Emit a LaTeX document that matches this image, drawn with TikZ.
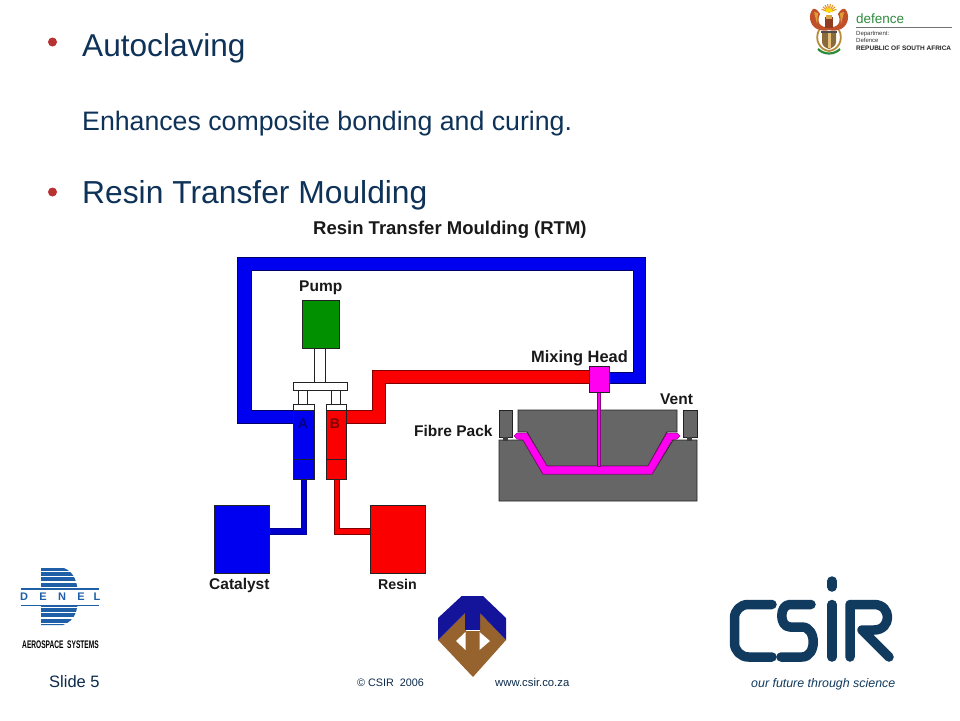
\documentclass[tikz,border=0pt]{standalone}
\usepackage{fontspec}
\setmainfont{Liberation Sans}
\definecolor{navy}{HTML}{0E3258}
\definecolor{csirblue}{HTML}{103A5E}
\definecolor{bulletred}{HTML}{B83232}
\definecolor{pipeblue}{HTML}{0000F0}
\definecolor{pipered}{HTML}{FA0000}
\definecolor{pumpgreen}{HTML}{009000}
\definecolor{mouldgrey}{HTML}{666666}
\definecolor{mixmag}{HTML}{FF00F0}
\definecolor{edgedark}{HTML}{222222}
\definecolor{denelblue}{HTML}{1F5FA8}
\definecolor{badgeblue}{HTML}{14149A}
\definecolor{badgebrown}{HTML}{96622E}
\definecolor{defgreen}{HTML}{2E8B3C}
\definecolor{armgold}{HTML}{D9A441}
\definecolor{armred}{HTML}{C0502A}
\definecolor{armbrown}{HTML}{8A6A3A}
\tikzset{
 slidetext/.style={anchor=base west,inner sep=0pt,text=navy,font=\fontsize{26.7}{30}\selectfont},
 headtext/.style={anchor=base west,inner sep=0pt,text=navy,font=\fontsize{31.6}{34}\selectfont},
 bulletmark/.style={circle,fill=bulletred,inner sep=0pt,minimum size=9},
 difflabel/.style={anchor=base west,inner sep=0pt,text=black!90,font=\fontsize{15.5}{17}\selectfont\bfseries},
 partbox/.style={draw=edgedark,line width=.9},
 footertext/.style={anchor=base west,inner sep=0pt,text=navy!85!black},
 csirstroke/.style={draw=csirblue,line width=9.5,line cap=round,line join=round},
}
\begin{document}
\begin{tikzpicture}[x=1pt,y=-1pt]
\useasboundingbox (0,0) rectangle (960,720);
\fill[white] (0,0) rectangle (960,720);
% slide text
\node[bulletmark] (b1) at (52.5,42) {};
\node[headtext] (t1) at (82,56) {Autoclaving};
\node[slidetext] (t2) at (82,130) {Enhances composite bonding and curing.};
\node[bulletmark] (b2) at (52.5,192) {};
\node[headtext,font=\fontsize{31.8}{34}\selectfont] (t3) at (82,203) {Resin Transfer Moulding};
% diagram labels
\node[difflabel,font=\fontsize{18.5}{20}\selectfont\bfseries] (dt) at (313,234) {Resin Transfer Moulding (RTM)};
\node[difflabel] (lp) at (299,291) {Pump};
\node[difflabel,font=\fontsize{16.4}{18}\selectfont\bfseries] (lm) at (531,362) {Mixing Head};
\node[difflabel] (lv) at (660,404) {Vent};
\node[difflabel] (lf) at (414,436) {Fibre Pack};
\node[difflabel] (lc) at (209,589) {Catalyst};
\node[difflabel,font=\fontsize{14.2}{17}\selectfont\bfseries] (lr) at (378,589) {Resin};
% blue loop
\path[fill=pipeblue,draw=black!60!blue,line width=.6] (293,410) -- (251,410) -- (251,270) -- (633,270) -- (633,372) -- (605,372) -- (605,383) -- (645,383) -- (645,257) -- (237,257) -- (237,423) -- (293,423) -- cycle;
% red line
\path[fill=pipered,draw=black!50!red,line width=.6] (346,410) -- (372,410) -- (372,370) -- (592,370) -- (592,383) -- (385,383) -- (385,423) -- (346,423) -- cycle;
% feed lines
\path[fill=black!15!pipeblue,draw=black!40!blue,line width=.5] (301,478) -- (306,478) -- (306,534) -- (268,534) -- (268,528) -- (301,528) -- cycle;
\path[fill=pipered,draw=black!50!red,line width=.5] (334,478) -- (339,478) -- (339,528) -- (371,528) -- (371,534) -- (334,534) -- cycle;
% pump
\node[partbox,fill=pumpgreen,minimum width=37,minimum height=48,inner sep=0pt] (pump) at (320.5,324) {};
\draw[partbox,fill=white] (314,348) rectangle (325,382);
\draw[partbox,fill=white] (293,382) rectangle (347,390);
\draw[partbox,fill=white] (298,390) rectangle (307,404);
\draw[partbox,fill=white] (331,390) rectangle (340,404);
% cylinders
\draw[partbox,fill=white] (293,404) rectangle (314,410);
\draw[partbox,fill=pipeblue] (293,410) rectangle (314,479);
\draw[partbox] (293,459) -- (314,459);
\draw[partbox,fill=white] (326,404) rectangle (346,410);
\draw[partbox,fill=pipered] (326,410) rectangle (346,479);
\draw[partbox] (326,459) -- (346,459);
\node[inner sep=0pt,font=\fontsize{14}{15}\selectfont\bfseries,text=black!50!blue] (la) at (303,424) {A};
\node[inner sep=0pt,font=\fontsize{14}{15}\selectfont\bfseries,text=black!50!red] (lb) at (335,424) {B};
% tanks
\node[partbox,fill=pipeblue,minimum width=55,minimum height=68,inner sep=0pt] (cat) at (241.5,539) {};
\node[partbox,fill=pipered,minimum width=55,minimum height=68,inner sep=0pt] (res) at (397.5,539) {};
% mould
\draw[partbox,fill=mouldgrey] (499,440) -- (523,440) -- (543,474) -- (652,474) -- (673,440) -- (697,440) -- (697,501) -- (499,501) -- cycle;
\draw[partbox,fill=mouldgrey] (518,410) -- (677,410) -- (677,432) -- (667,432) -- (648,466) -- (547,466) -- (527,432) -- (518,432) -- cycle;
\draw[partbox,fill=mouldgrey] (499,410) rectangle (512,437);
\draw[partbox,fill=mouldgrey] (683,410) rectangle (697,437);
\fill[mouldgrey!60!black] (503,437) rectangle (508,441);
\fill[mouldgrey!60!black] (687,437) rectangle (692,441);
% cavity
\path[fill=mixmag,draw=black!40!mixmag,line width=.5] (517,433) -- (527,433) -- (547,466) -- (648,466) -- (667,433) -- (677,433) -- (680,436) -- (677,439) -- (672,440) -- (652,474) -- (543,474) -- (523,440) -- (517,439) -- (514,436) -- cycle;
% mixing head
\draw[fill=mixmag,draw=black!50!mixmag,line width=.6] (597,392) rectangle (600.5,466);
\node[partbox,fill=mixmag,minimum width=20,minimum height=26,inner sep=0pt] (mix) at (599,379) {};
% footer
\node[footertext,font=\fontsize{16.5}{18}\selectfont] (sl) at (49,687) {Slide 5};
\node[footertext,font=\fontsize{10.8}{11}\selectfont] (co) at (357,686) {© CSIR\ \ 2006};
\node[footertext,font=\fontsize{11.3}{11}\selectfont] (ww) at (495,686) {www.csir.co.za};
% CSIR logo
\draw[csirstroke] (772,604.5) -- (748,604.5) arc[start angle=270,end angle=180,radius=13.5] -- (734.5,643) arc[start angle=180,end angle=90,radius=14] -- (772,657);
\draw[csirstroke] (811,604.5) -- (790,604.5) .. controls (779,604.5) and (779,627) .. (790,627) -- (802,627) .. controls (817,627) and (817,657) .. (802,657) -- (781,657);
\draw[csirstroke] (832,581) -- (832,587);
\draw[csirstroke] (832,604.5) -- (832,657);
\draw[csirstroke] (850,657) -- (850,604.5) -- (874,604.5) .. controls (892,604.5) and (892,630) .. (874,630) -- (862,630) -- (889,657);
\node[anchor=base west,inner sep=0pt,text=csirblue,font=\fontsize{12.4}{15}\selectfont\itshape] (tag) at (751,687) {our future through science};
% DENEL logo
\begin{scope}
\clip (41,568) -- (64,568) .. controls (74,572) and (78,582) .. (78,597) .. controls (78,612) and (74,621) .. (63,625) -- (41,625) -- cycle;
\foreach \yy in {567,572.2,577.4,582.6,587.8,603,608.2,613.4,618.6,623.8} {\fill[denelblue] (41,\yy) rectangle (85,\yy+4);}
\end{scope}
\fill[white] (20,589.5) rectangle (100,604.5);
\fill[denelblue] (21,588) rectangle (99,589.5);
\fill[denelblue] (21,604.5) rectangle (99,606);
\foreach \lx/\lt/\nm in {24/D/ld,43/E/le,62/N/ln,81/E/lf2,97/L/ll} {\node[inner sep=0pt,text=denelblue,font=\fontsize{11}{12}\selectfont\bfseries] (\nm) at (\lx,597) {\lt};}
\node[inner sep=0pt,text=black,xscale=.6,font=\fontsize{11}{12}\selectfont\bfseries] (das) at (60.5,645) {AEROSPACE\ \ SYSTEMS};
% badge
\fill[badgebrown] (438,640) -- (465,613) -- (465,630) -- (480,630) -- (480,613) -- (506,640) -- (473,677) -- cycle;
\fill[badgeblue] (438,618) -- (461.7,596) -- (483,596) -- (506,618) -- (506,640) -- (480,613) -- (480,630) -- (465,630) -- (465,613) -- (438,640) -- cycle;
\fill[white] (465.5,632) -- (465.5,650) -- (456,641) -- cycle;
\fill[white] (479.5,632) -- (479.5,650) -- (490,641) -- cycle;
\draw[white,line width=.6] (466,630.5) -- (480,630.5);
% defence crest: sun
\foreach \aa in {200,220,...,340} {\draw[armgold!60!orange,line width=1.1] (829,12) -- ++(\aa:8);}
\fill[yellow!80!orange] (825,12) arc[start angle=180,end angle=360,radius=4] -- cycle;
% wings
\fill[armred] (829,27) .. controls (820,28) and (816,22) .. (820,14) .. controls (818,10) and (815,8) .. (813,9) .. controls (808,14) and (809,25) .. (817,29) .. controls (821,31) and (826,31) .. (829,30) -- cycle;
\fill[armred] (829,27) .. controls (838,28) and (842,22) .. (838,14) .. controls (840,10) and (843,8) .. (845,9) .. controls (850,14) and (849,25) .. (841,29) .. controls (837,31) and (832,31) .. (829,30) -- cycle;
\fill[armgold!80!orange] (814,12) -- (818,13) -- (817,24) -- cycle;
\fill[armgold!80!orange] (844,12) -- (840,13) -- (841,24) -- cycle;
% bird
\fill[armred!75!black] (825,17) rectangle (833,28);
\fill[armgold] (826,15) rectangle (832,19);
% tusks and shield
\draw[armgold!85!black,line width=1.8] (819,30) .. controls (814,40) and (820,50) .. (829,51);
\draw[armgold!85!black,line width=1.8] (839,30) .. controls (844,40) and (838,50) .. (829,51);
\fill[armbrown] (822,33) -- (836,33) -- (836,42) .. controls (836,46) and (832,48) .. (829,49) .. controls (826,48) and (822,46) .. (822,42) -- cycle;
\fill[armgold!70!white] (827.5,33) rectangle (830.5,48);
\fill[black!70] (821,31) rectangle (837,32.5);
\draw[defgreen,line width=2.2] (818,49) .. controls (824,55) and (834,55) .. (840,49);
\node[anchor=base west,inner sep=0pt,text=defgreen,font=\fontsize{13.5}{16}\selectfont] (df) at (856,23) {defence};
\fill[black!55] (856,27) rectangle (952,28);
\node[anchor=base west,inner sep=0pt,text=black!80,font=\fontsize{6}{7}\selectfont] (dd) at (856,35.5) {Department:};
\node[anchor=base west,inner sep=0pt,text=black!80,font=\fontsize{6}{7}\selectfont] (de) at (856,42) {Defence};
\node[anchor=base west,inner sep=0pt,text=black!85,font=\fontsize{6.5}{7}\selectfont\bfseries] (dr) at (856,50.5) {REPUBLIC OF SOUTH AFRICA};
\end{tikzpicture}
\end{document}
